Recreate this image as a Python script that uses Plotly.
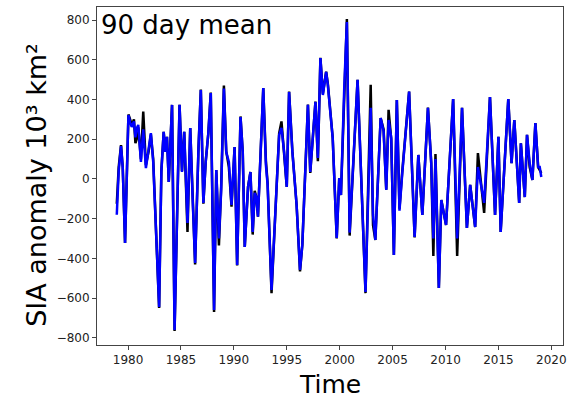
import plotly.graph_objects as go

years = [1978.94, 1979.12, 1979.34, 1979.50, 1979.72, 1980.04, 1980.20, 1980.35, 1980.56, 1980.70,
         1980.82, 1980.97, 1981.22, 1981.44, 1981.69, 1981.95, 1982.16, 1982.38, 1982.94, 1983.15,
         1983.37, 1983.52, 1983.68, 1983.85, 1984.16, 1984.40, 1984.87, 1985.10, 1985.31, 1985.62,
         1985.88, 1986.10, 1986.34, 1986.66, 1986.88, 1987.12, 1987.34, 1987.59, 1987.82, 1988.13,
         1988.34, 1988.59, 1988.80, 1989.06, 1989.28, 1989.53, 1989.78, 1990.07, 1990.31, 1990.63,
         1990.84, 1991.03, 1991.34, 1991.57, 1991.78, 1991.97, 1992.12, 1992.28, 1992.78, 1993.03,
         1993.19, 1993.56, 1994.28, 1994.50, 1994.75, 1995.00, 1995.22, 1995.53, 1995.93, 1996.25,
         1996.47, 1997.00, 1997.22, 1997.71, 1997.94, 1998.18, 1998.41, 1998.72, 1998.88, 1999.34,
         1999.72, 1999.96, 2000.12, 2000.43, 2000.68, 2000.94, 2001.69, 2002.44, 2002.93, 2003.15,
         2003.37, 2003.87, 2004.15, 2004.40, 2004.62, 2004.87, 2005.12, 2005.40, 2005.65, 2005.90,
         2006.56, 2007.08, 2007.43, 2007.81, 2008.34, 2008.65, 2008.85, 2009.05, 2009.37, 2009.60,
         2010.05, 2010.72, 2011.10, 2011.56, 2012.02, 2012.33, 2012.80, 2013.06, 2013.65, 2014.20,
         2014.68, 2015.00, 2015.21, 2015.93, 2016.24, 2016.50, 2016.96, 2017.12, 2017.49, 2017.70,
         2017.95, 2018.21, 2018.49, 2018.75, 2018.90, 2019.05]

sia_blue = [-180, 40, 165, 60, -322, 322, 285, 262, 290, 210,
            255, 272, 86, 250, 55, 150, 231, 86, -645, 35,
            237, 136, 212, -15, 373, -760, 373, 35, 237, -222,
            257, -91, -423, 156, 448, -121, 86, 231, 433, -660,
            45, -300, -60, 455, 136, 86, -131, 161, -433, 312,
            136, -342, -40, 35, -267, -70, -90, -190, 458, 70,
            -30, -559, 222, 257, 136, -40, 438, 136, -131, -458,
            -332, 373, 35, 388, 106, 609, 423, 539, 474, 207,
            -297, 5, -81, 458, 790, -270, 499, -569, 358, -180,
            -307, 307, 240, -55, 297, 207, -383, 398, -160, 20,
            440, -292, 121, -181, 358, 80, -300, 100, -549, -106,
            -232, 403, -300, 358, -247, -30, -242, 60, -120, 413,
            -181, 212, -267, 403, 80, 297, -121, 180, -91, 222,
            80, -5, 282, 60, 60, 10]

sia_black = [-125, 60, 170, 60, -322, 325, 300, 270, 300, 180,
             200, 260, 100, 340, 70, 140, 225, 100, -650, 40,
             237, 140, 212, -15, 373, -765, 373, 40, 237, -267,
             257, -90, -430, 156, 450, -125, 86, 231, 435, -670,
             45, -335, -40, 470, 140, 60, -140, 161, -435, 315,
             136, -342, -40, 35, -280, -60, -90, -190, 458, 90,
             -20, -575, 230, 290, 100, -40, 440, 140, -131, -465,
             -332, 375, 30, 390, 90, 610, 430, 540, 480, 207,
             -300, 5, -81, 460, 805, -285, 499, -575, 474, -232,
             -307, 307, 250, -55, 348, 200, -383, 398, -150, 30,
             440, -295, 121, -181, 360, 80, -388, 126, -549, -106,
             -232, 403, -388, 358, -247, -30, -242, 130, -171, 413,
             -181, 212, -267, 403, 80, 297, -121, 180, -91, 222,
             60, -5, 282, 60, 40, 30]

x_ticks = [1980, 1985, 1990, 1995, 2000, 2005, 2010, 2015, 2020]
y_ticks = [-800, -600, -400, -200, 0, 200, 400, 600, 800]

fig = go.Figure()
fig.add_trace(go.Scatter(x=years, y=sia_black, mode="lines",
                         line=dict(color="#000000", width=2.5), showlegend=False))
fig.add_trace(go.Scatter(x=years, y=sia_blue, mode="lines",
                         line=dict(color="#0000ff", width=2.5), showlegend=False))

axis_common = dict(showgrid=False, zeroline=False, showline=True, mirror=True,
                   linecolor="#444444", linewidth=1, ticks="outside", ticklen=4,
                   tickcolor="#444444", tickwidth=1,
                   tickfont=dict(family="DejaVu Sans", size=12, color="#222222"))

fig.update_xaxes(range=[1977.07, 2021.1], tickvals=x_ticks, **axis_common)
fig.update_yaxes(range=[-836, 866], tickvals=y_ticks, **axis_common)

fig.add_annotation(text="90 day mean", xref="paper", yref="paper", x=0.004, y=0.997,
                   xanchor="left", yanchor="top", showarrow=False,
                   font=dict(family="DejaVu Sans", size=26, color="#000000"))
fig.add_annotation(text="Time", xref="paper", yref="paper", x=0.5, y=-0.118,
                   xanchor="center", yanchor="middle", showarrow=False,
                   font=dict(family="DejaVu Sans", size=25, color="#000000"))
fig.add_annotation(text="SIA anomaly 10³ km²", xref="paper", yref="paper",
                   x=-0.13, y=0.475, xanchor="center", yanchor="middle", textangle=-90,
                   showarrow=False, font=dict(family="DejaVu Sans", size=27, color="#000000"))

fig.update_layout(width=572, height=400, margin=dict(l=97, r=5, t=7, b=55),
                  paper_bgcolor="white", plot_bgcolor="white")

fig.write_html("out.html")
